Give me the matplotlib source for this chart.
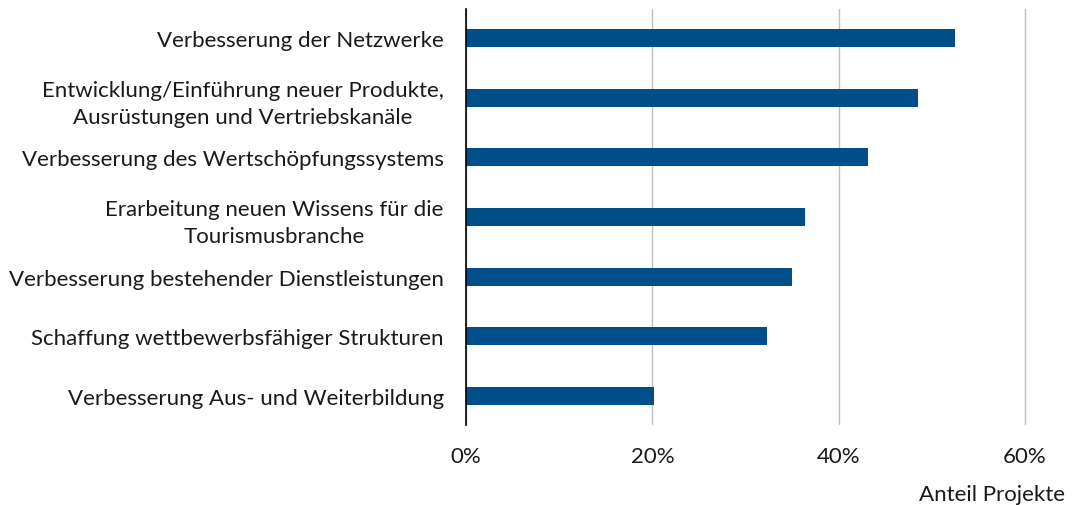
import matplotlib.pyplot as plt
from matplotlib.ticker import PercentFormatter

plt.rcParams['font.family'] = ['Lato', 'DejaVu Sans']

categories = [
    "Verbesserung der Netzwerke",
    "Entwicklung/Einführung neuer Produkte,\nAusrüstungen und Vertriebskanäle",
    "Verbesserung des Wertschöpfungssystems",
    "Erarbeitung neuen Wissens für die\nTourismusbranche",
    "Verbesserung bestehender Dienstleistungen",
    "Schaffung wettbewerbsfähiger Strukturen",
    "Verbesserung Aus- und Weiterbildung",
]
values = [0.525, 0.485, 0.431, 0.364, 0.350, 0.323, 0.202]
ticks = [0, 0.2, 0.4, 0.6]

BAR_COLOR = "#004F8A"
TEXT_COLOR = "#1a1a1a"
FS = 16

fig = plt.figure(figsize=(10.72, 5.06), dpi=100)
# 0% at x=466 px, 60% at x=1025 px; keep a little room so the last gridline is not clipped
ax = fig.add_axes([466 / 1072, 1 - 426 / 506, (1030 - 466) / 1072, 416 / 506])

y = list(range(len(categories)))[::-1]
ax.barh(y, values, height=0.3, color=BAR_COLOR, zorder=3)

ax.set_xlim(0, 0.6 * (1030 - 466) / (1025 - 466))
ax.set_ylim(-0.485, len(categories) - 1 + 0.485)
ax.set_xticks(ticks)
ax.xaxis.set_major_formatter(PercentFormatter(1.0, decimals=0))
ax.grid(axis="x", color="#BFBFBF", linewidth=1, zorder=0)

ax.set_yticks(y)
ax.set_yticklabels(categories, multialignment="center", linespacing=1.45)
ax.tick_params(axis="y", length=0, pad=16, labelsize=FS, colors=TEXT_COLOR)
ax.tick_params(axis="x", length=0, pad=15, labelsize=FS, colors=TEXT_COLOR)

for side in ["top", "right", "bottom"]:
    ax.spines[side].set_visible(False)
ax.spines["left"].set_color("black")
ax.spines["left"].set_linewidth(1.2)
ax.spines["left"].set_zorder(4)

fig.text(1065 / 1072, 1 - 495 / 506, "Anteil Projekte", ha="right", va="center",
         fontsize=FS, color=TEXT_COLOR)

fig.savefig("out.png", dpi=100)
